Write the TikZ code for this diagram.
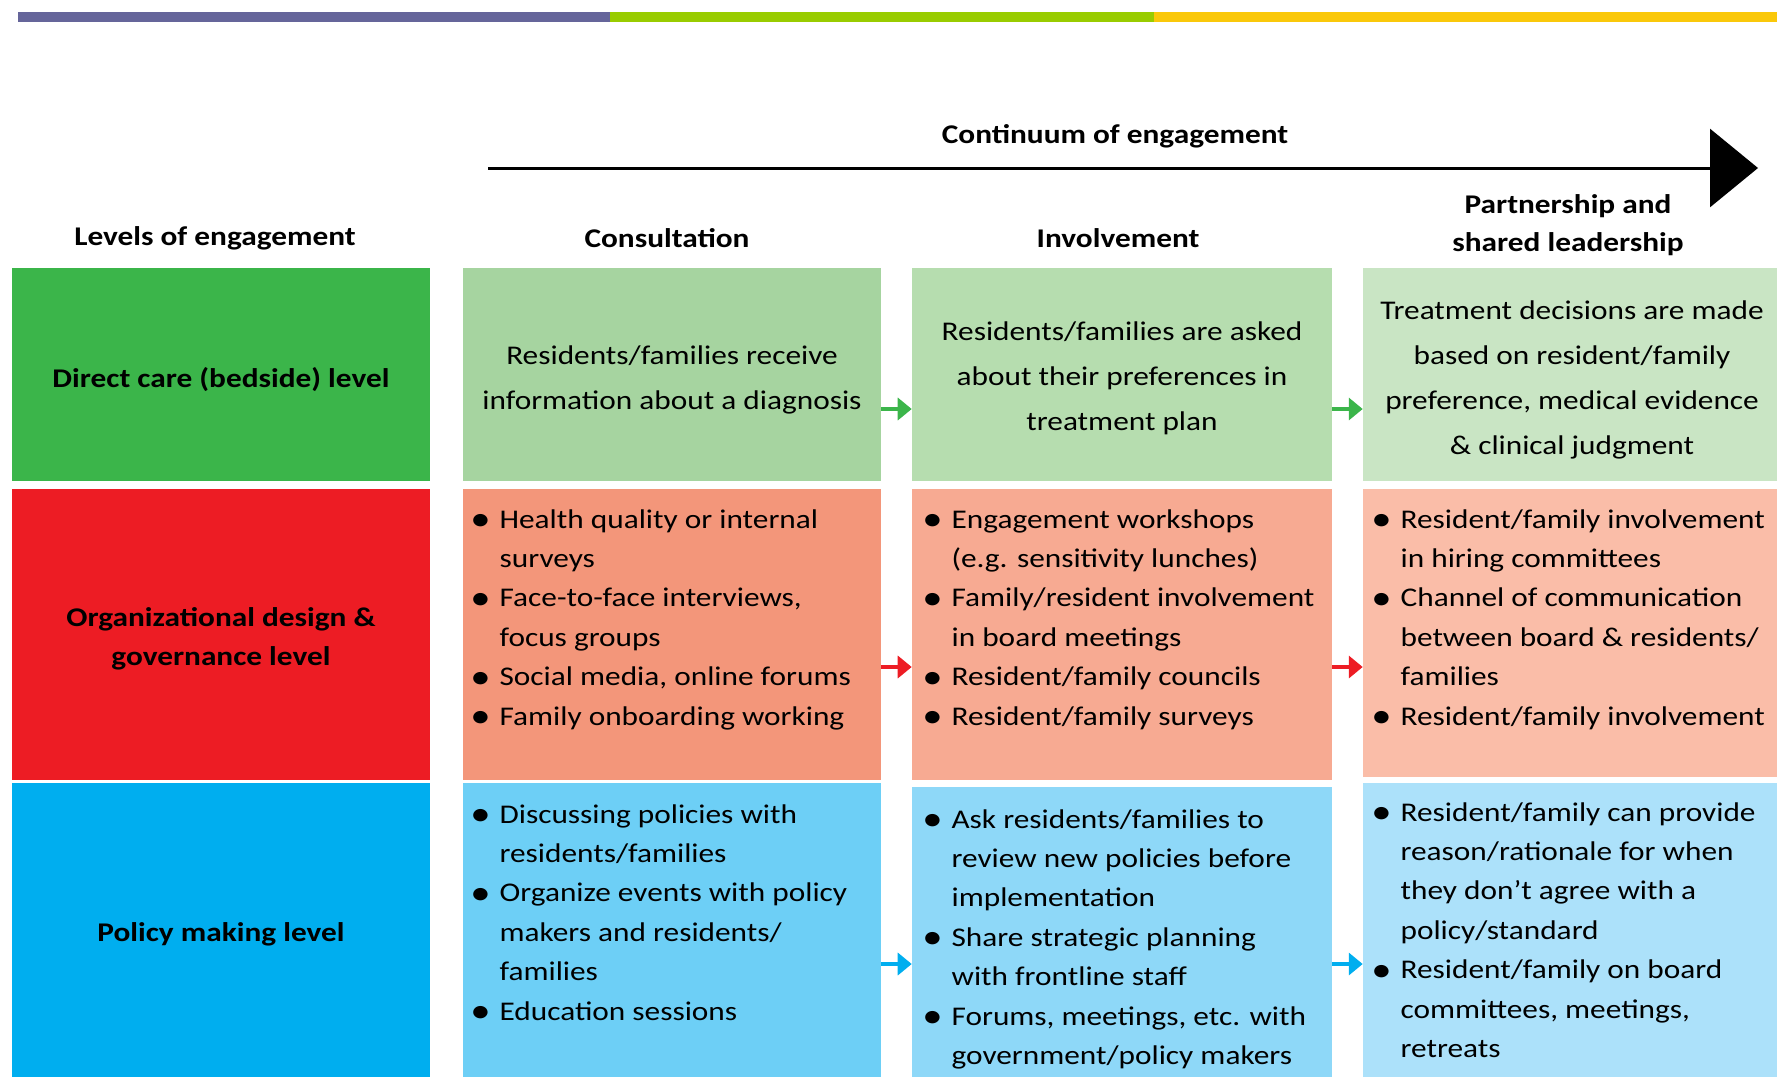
\documentclass[tikz,border=0pt]{standalone}
\usepackage{fontspec}
\setmainfont{Carlito}[FakeStretch=1.16]
\usetikzlibrary{arrows.meta,fit}
\definecolor{barpurple}{RGB}{101,101,154}
\definecolor{bargreen}{RGB}{153,204,0}
\definecolor{baryellow}{RGB}{250,200,10}
\definecolor{lvgreen}{RGB}{59,181,74}
\definecolor{lvred}{RGB}{237,28,36}
\definecolor{lvblue}{RGB}{0,174,239}
\definecolor{gA}{RGB}{166,212,160}
\definecolor{gB}{RGB}{182,221,175}
\definecolor{gC}{RGB}{201,229,196}
\definecolor{rA}{RGB}{243,150,122}
\definecolor{rB}{RGB}{247,170,146}
\definecolor{rC}{RGB}{250,189,168}
\definecolor{bA}{RGB}{109,207,246}
\definecolor{bB}{RGB}{142,216,248}
\definecolor{bC}{RGB}{172,225,250}
\newcommand{\itm}{\makebox[22pt][l]{\raisebox{-1.6pt}{\scalebox{1.3}{\textbullet}}}}
\newcommand{\cnt}{\hspace*{22pt}}

\begin{document}
\begin{tikzpicture}[x=0.75pt,y=-0.75pt,
  every node/.style={inner sep=0pt,font=\fontsize{20.25pt}{29.6pt}\selectfont},
  cellbox/.style={inner sep=0pt,draw=none},
  hdr/.style={font=\fontsize{20.25pt}{28.5pt}\selectfont\bfseries,align=center},
  lvl/.style={font=\fontsize{20.25pt}{29.25pt}\selectfont\bfseries,align=center},
  midtxt/.style={align=center,font=\fontsize{20.25pt}{33.75pt}\selectfont},
  listtxt/.style={align=left,anchor=north west},
  flow/.style={line width=3pt,-{Triangle[length=10.5pt,width=16.5pt]}}]
\useasboundingbox (0,0) rectangle (1777,1076);
\clip (0,0) rectangle (1777,1076);
\fill[barpurple] (18,12) rectangle (610,22);
\fill[bargreen] (610,12) rectangle (1154,22);
\fill[baryellow] (1154,12) rectangle (1777,22);
\coordinate (ce0) at (488,168);
\coordinate (ce1) at (1758,168);
\draw[line width=2.25pt,-{Triangle[length=36pt,width=58.5pt]}] (ce0) -- (ce1);
\node[hdr] (cont) at (1115,136) {Continuum of engagement};
\node[hdr] (hlev) at (215,238) {Levels of engagement};
\node[hdr] (hcon) at (667,238) {Consultation};
\node[hdr] (hinv) at (1118,238) {Involvement};
\node[hdr] (hpar) at (1568,225) {Partnership and\\shared leadership};
\node[cellbox,fill=lvgreen,fit={(12,268) (430,481)}] (l1) {};
\node[cellbox,fill=lvred,fit={(12,489) (430,780)}] (l2) {};
\node[cellbox,fill=lvblue,fit={(12,783) (430,1090)}] (l3) {};
\node[cellbox,fill=gA,fit={(463,268) (881,481)}] (c1) {};
\node[cellbox,fill=rA,fit={(463,489) (881,780)}] (c2) {};
\node[cellbox,fill=bA,fit={(463,783) (881,1090)}] (c3) {};
\node[cellbox,fill=gB,fit={(912,268) (1332,481)}] (i1) {};
\node[cellbox,fill=rB,fit={(912,489) (1332,780)}] (i2) {};
\node[cellbox,fill=bB,fit={(912,787) (1332,1090)}] (i3) {};
\node[cellbox,fill=gC,fit={(1363,268) (1790,481)}] (p1) {};
\node[cellbox,fill=rC,fit={(1363,489) (1790,777)}] (p2) {};
\node[cellbox,fill=bC,fit={(1363,783) (1790,1090)}] (p3) {};
\node[lvl] (l1t) at (221,380) {Direct care (bedside) level};
\node[lvl] (l2t) at (221,639) {Organizational design \&\\governance level};
\node[lvl] (l3t) at (221,934) {Policy making level};
\node[midtxt] (c1t) at (672,380) {Residents/families receive\\information about a diagnosis};
\node[midtxt] (i1t) at (1122,378) {Residents/families are asked\\about their preferences in\\treatment plan};
\node[midtxt] (p1t) at (1572,380) {Treatment decisions are made\\based on resident/family\\preference, medical evidence\\\& clinical judgment};
\node[listtxt] (c2t) at (470,509) {\itm Health quality or internal\\\cnt surveys\\\itm Face-to-face interviews,\\\cnt focus groups\\\itm Social media, online forums\\\itm Family onboarding working};
\node[listtxt] (i2t) at (922,509) {\itm Engagement workshops\\\cnt (e.g. sensitivity lunches)\\\itm Family/resident involvement\\\cnt in board meetings\\\itm Resident/family councils\\\itm Resident/family surveys};
\node[listtxt] (p2t) at (1371,509) {\itm Resident/family involvement\\\cnt in hiring committees\\\itm Channel of communication\\\cnt between board \& residents/\\\cnt families\\\itm Resident/family involvement};
\node[listtxt] (c3t) at (470,804) {\itm Discussing policies with\\\cnt residents/families\\\itm Organize events with policy\\\cnt makers and residents/\\\cnt families\\\itm Education sessions};
\node[listtxt] (i3t) at (922,809) {\itm Ask residents/families to\\\cnt review new policies before\\\cnt implementation\\\itm Share strategic planning\\\cnt with frontline staff\\\itm Forums, meetings, etc. with\\\cnt government/policy makers};
\node[listtxt] (p3t) at (1371,802) {\itm Resident/family can provide\\\cnt reason/rationale for when\\\cnt they don’t agree with a\\\cnt policy/standard\\\itm Resident/family on board\\\cnt committees, meetings,\\\cnt retreats};
\draw[flow,lvgreen] (c1.east |- 0,409) -- (i1.west |- 0,409);
\draw[flow,lvgreen] (i1.east |- 0,409) -- (p1.west |- 0,409);
\draw[flow,lvred] (c2.east |- 0,667) -- (i2.west |- 0,667);
\draw[flow,lvred] (i2.east |- 0,667) -- (p2.west |- 0,667);
\draw[flow,lvblue] (c3.east |- 0,964) -- (i3.west |- 0,964);
\draw[flow,lvblue] (i3.east |- 0,964) -- (p3.west |- 0,964);
\end{tikzpicture}
\end{document}
